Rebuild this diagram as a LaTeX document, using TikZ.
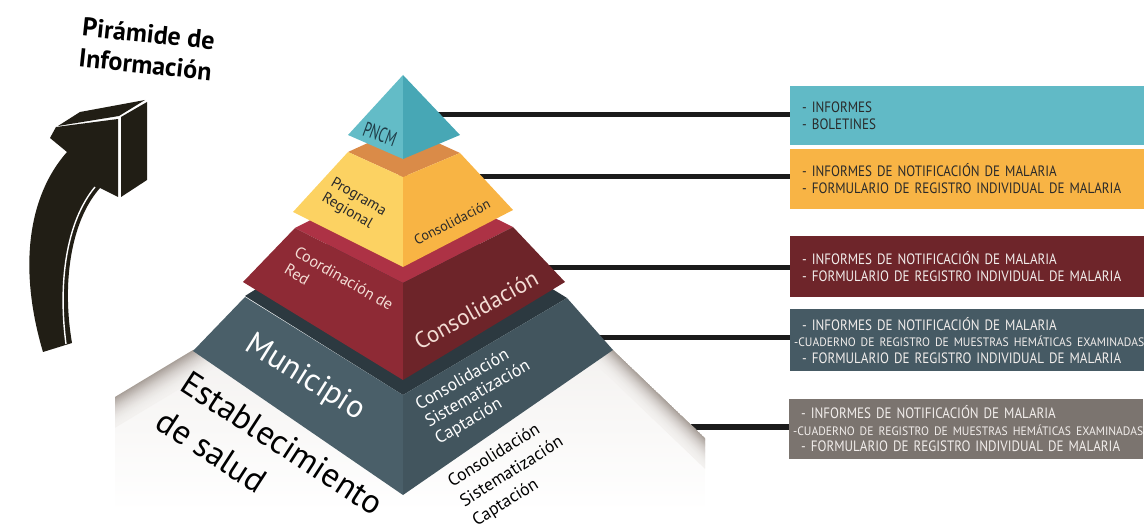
\documentclass[tikz,border=0pt]{standalone}
\usepackage{fontspec}
\setmainfont{PT Sans}
\newfontfamily\boxfont[FakeStretch=0.87]{PT Sans}
\newfontfamily\smallboxfont[FakeStretch=0.95]{PT Sans}
\newfontfamily\thinfont[FakeStretch=0.62]{PT Sans}
\usepackage{tikz}
\usetikzlibrary{positioning,calc}
\definecolor{tealL}{HTML}{63BCC7}
\definecolor{tealR}{HTML}{47A7B5}
\definecolor{ambTop}{HTML}{DA8B48}
\definecolor{ambL}{HTML}{FCD262}
\definecolor{ambR}{HTML}{F8B444}
\definecolor{redTop}{HTML}{AD3245}
\definecolor{redL}{HTML}{8E2A35}
\definecolor{redR}{HTML}{6D2429}
\definecolor{slTop}{HTML}{2C3940}
\definecolor{slL}{HTML}{4A5F69}
\definecolor{slR}{HTML}{42555E}
\definecolor{slabEdge}{HTML}{958A83}
\definecolor{slabTop}{HTML}{F3F1EF}
\definecolor{arrowcol}{HTML}{211E15}
\definecolor{linkcol}{HTML}{1B1B1B}
\definecolor{boxA}{HTML}{61BAC6}
\definecolor{boxB}{HTML}{F8B445}
\definecolor{boxC}{HTML}{6E252A}
\definecolor{boxD}{HTML}{465A64}
\definecolor{boxE}{HTML}{7B746F}
\definecolor{inkdark}{HTML}{2A2A2A}
\definecolor{inklight}{HTML}{F2EEEC}
\definecolor{inkpink}{HTML}{F3DCD4}
\definecolor{inkteal}{HTML}{1E3B46}
\tikzstyle{infobox}=[rectangle, minimum width=354pt, minimum height=60pt,
                    text width=330pt, inner xsep=12pt, inner ysep=2pt,
                    align=left, font=\boxfont\fontsize{15}{16.5}\selectfont]
\tikzstyle{link}   =[line width=5pt, draw=linkcol]
\tikzstyle{lbl}    =[inner sep=0pt, align=left]
\newcommand{\smallline}[1]{\mbox{\hspace*{-8pt}\smallboxfont\fontsize{12.2}{16.5}\selectfont #1}}

\begin{document}
\begin{tikzpicture}[x=1pt, y=-1pt, node distance=3pt]
                \useasboundingbox (0,0) rectangle (1144,529);

                % boxes on the right
                \node[infobox, fill=boxA, text=inkdark, minimum height=59pt, anchor=north west] (b1) at (790,86)
                      {- INFORMES\\- BOLETINES};
                \node[infobox, fill=boxB, text=inkdark, below=3pt of b1] (b2)
                      {- INFORMES DE NOTIFICACIÓN DE MALARIA\\- FORMULARIO DE REGISTRO INDIVIDUAL DE MALARIA};
                \node[infobox, fill=boxC, text=inklight, minimum height=61pt, below=27pt of b2] (b3)
                      {- INFORMES DE NOTIFICACIÓN DE MALARIA\\- FORMULARIO DE REGISTRO INDIVIDUAL DE MALARIA};
                \node[infobox, fill=boxD, text=inklight, minimum height=62pt, below=12pt of b3] (b4)
                      {- INFORMES DE NOTIFICACIÓN DE MALARIA\\
                       \smallline{-CUADERNO DE REGISTRO DE MUESTRAS HEMÁTICAS EXAMINADAS}\\
                       - FORMULARIO DE REGISTRO INDIVIDUAL DE MALARIA};
                \node[infobox, fill=boxE, text=inklight, below=27pt of b4, xshift=-1pt, inner xsep=7pt] (b5)
                      {- INFORMES DE NOTIFICACIÓN DE MALARIA\\
                       \smallline{-CUADERNO DE REGISTRO DE MUESTRAS HEMÁTICAS EXAMINADAS}\\
                       - FORMULARIO DE REGISTRO INDIVIDUAL DE MALARIA};

                % connectors
                \coordinate (p1) at (436,115);
                \coordinate (p2) at (478,177);
                \coordinate (p3) at (548,268);
                \coordinate (p4) at (598,338);
                \coordinate (p5) at (690,427);
                \draw[link] (p1) to (p1 -| b1.west);
                \draw[link] (p2) to (p2 -| b2.west);
                \draw[link] (p3) to (p3 -| b3.west);
                \draw[link] (p4) to (p4 -| b4.west);
                \draw[link] (p5) to (p5 -| b5.west);

                % establecimiento slab
                \begin{scope}
                  \clip (115,397) -- (193,350) -- (613,350) -- (705,438) -- (705,512) -- (115,512) -- cycle;
                  \shade[top color=slabTop, bottom color=white] (100,340) rectangle (720,512);
                  \foreach \k in {0,...,24}{
                    \pgfmathtruncatemacro\p{80*(1-\k/25)^2}
                    \fill[slabEdge!\p!slabTop] (115,397+1.2*\k) -- (300,285.5+1.2*\k)
                         -- (300,287.5+1.2*\k) -- (115,399+1.2*\k) -- cycle;
                    \fill[slabEdge!\p!slabTop] (540,280+1.2*\k) -- (705,438+1.2*\k)
                         -- (705,440+1.2*\k) -- (540,282+1.2*\k) -- cycle;
                  }
                \end{scope}

                % municipio
                \fill[slTop] (245,296) -- (403,197) -- (567,298) -- (403,395) -- cycle;
                \fill[slL] (245,297) -- (403,395) -- (403,495) -- (193,351) -- cycle;
                \fill[slR] (403,395) -- (567,298) -- (613,350) -- (403,495) -- cycle;
                % coordinacion de red
                \fill[redTop] (295,228) -- (403,173) -- (513,227) -- (403,283) -- cycle;
                \fill[redL] (295,228) -- (403,283) -- (403,380) -- (243,282) -- cycle;
                \fill[redR] (403,283) -- (513,227) -- (565,282) -- (403,380) -- cycle;
                % programa regional
                \fill[ambTop] (348,152) -- (403,127) -- (460,153) -- (403,177) -- cycle;
                \fill[ambL] (348,152) -- (403,177) -- (403,267) -- (293,212) -- cycle;
                \fill[ambR] (403,177) -- (460,153) -- (513,210) -- (403,267) -- cycle;
                % pncm
                \fill[tealL] (403,75) -- (348,135) -- (403,159) -- cycle;
                \fill[tealR] (403,75) -- (403,159) -- (460,135) -- cycle;

                % labels on the pyramid
                \node[lbl, rotate=-20, text=inkteal, font=\thinfont\fontsize{21}{21}\selectfont] (pncm) at (380,134) {PNCM};
                \node[lbl, rotate=-30, text=inkdark, font=\fontsize{15}{18}\selectfont] (prog) at (354,205) {Programa\\Regional};
                \node[lbl, rotate=27, text=inkdark, font=\fontsize{14}{14}\selectfont] (cons2) at (452,222) {Consolidación};
                \node[lbl, rotate=-30, text=inkpink, font=\fontsize{16}{20}\selectfont] (coord) at (339,287) {Coordinación de\\Red};
                \node[lbl, rotate=29, text=inkpink, font=\fontsize{23}{23}\selectfont] (cons3) at (476,310) {Consolidación};
                \node[lbl, rotate=-32, text=white, font=\fontsize{32}{32}\selectfont] (mun) at (305,378) {Municipio};
                \node[lbl, rotate=30, text=white, font=\fontsize{17.5}{19.5}\selectfont] (cons4) at (478,394)
                      {Consolidación\\Sistematización\\Captación};
                \node[lbl, rotate=-33, text=black, font=\fontsize{34}{45}\selectfont] (est) at (270,462)
                      {Establecimiento\\de salud};
                \node[lbl, rotate=32, text=black, font=\fontsize{17.5}{23}\selectfont] (cons5) at (512,472)
                      {Consolidación\\Sistematización\\Captación};

                % arrow
                \fill[arrowcol] (43,352) .. controls (18,268) and (28,196) .. (67,152) -- (50,138) -- (56,127)
                      -- (118,119) -- (118,197) -- (100,188) .. controls (70,222) and (62,285) .. (72,343) -- cycle;
                \draw[white, line width=1.4pt] (95,187) .. controls (66,222) and (58,283) .. (66,344);
                \fill[arrowcol] (121,117) -- (147,102) -- (147,180) -- (121,197) -- cycle;
                \fill[arrowcol] (58,126) -- (80,112) -- (145,100) -- (119,116) -- cycle;

                % title
                \node[lbl, align=center, rotate=-6, font=\bfseries\fontsize{26}{31}\selectfont] (title) at (147,49)
                      {Pirámide de\\Información};
\end{tikzpicture}
\end{document}
